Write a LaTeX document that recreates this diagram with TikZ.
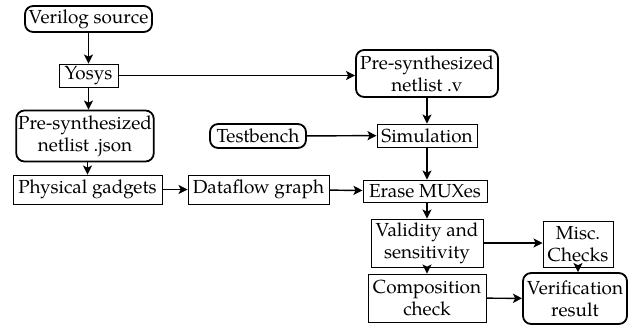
\documentclass[tikz,border=0pt]{standalone}
\usepackage{fontspec}
\setmainfont{TeX Gyre Pagella}
\usetikzlibrary{arrows.meta}
\begin{document}
\begin{tikzpicture}[x=0.55pt,y=-0.55pt,
  sz/.style 2 args={minimum width=#1*0.55pt,minimum height=#2*0.55pt},
  base/.style={align=center,inner sep=1pt,font=\fontsize{10.4pt}{12pt}\selectfont},
  proc/.style={base,draw,line width=0.5pt},
  data/.style={base,draw,rounded corners=4.5pt,line width=1pt},
  flow/.style={-{Stealth[length=5pt,width=5pt,inset=1.2pt]},line width=0.8pt}]
\useasboundingbox (0,0) rectangle (636,333);
% nodes
\node[data,sz={127}{26}] (src) at (88.5,19) {Verilog source};
\node[proc,sz={59}{23}] (yosys) at (88.5,75.5) {Yosys};
\node[data,sz={136}{51}] (json) at (85,136) {Pre-synthesized\\netlist .json};
\node[data,sz={96}{24}] (tb) at (258,136) {Testbench};
\node[data,sz={142}{47}] (netv) at (427,73.5) {Pre-synthesized\\netlist .v};
\node[proc,sz={100}{23}] (sim) at (427,135.5) {Simulation};
\node[proc,sz={149}{29}] (phys) at (87.5,189.5) {Physical gadgets};
\node[proc,sz={141}{29}] (dfg) at (258.5,189.5) {Dataflow graph};
\node[proc,sz={124}{22}] (erase) at (425,191) {Erase MUXes};
\node[proc,sz={112}{48}] (valid) at (427,243) {Validity and\\sensitivity};
\node[proc,sz={70}{46}] (misc) at (578,244) {Misc.\\Checks};
\node[proc,sz={118}{48}] (comp) at (427,298) {Composition\\check};
\node[data,sz={104}{51}] (verif) at (575,298.5) {Verification\\result};
% connectors
\draw[flow] (src) -- (yosys);
\draw[flow] (yosys) -- (yosys |- json.north);
\draw[flow] (yosys.east) -- (yosys.east -| netv.west);
\draw[flow] (json.south -| phys) -- (phys);
\draw[flow] (phys) -- (dfg);
\draw[flow] (dfg) -- (erase);
\draw[flow] (netv) -- (sim);
\draw[flow] (tb) -- (sim);
\draw[flow] (sim.south) -- (sim.south |- erase.north);
\draw[flow] (erase.south -| valid) -- (valid);
\draw[flow] (valid.east) -- (valid.east -| misc.west);
\draw[flow] (valid) -- (comp);
\draw[flow] (misc.south) -- (misc.south |- verif.north);
\draw[flow] (comp) -- (verif);
\end{tikzpicture}
\end{document}
